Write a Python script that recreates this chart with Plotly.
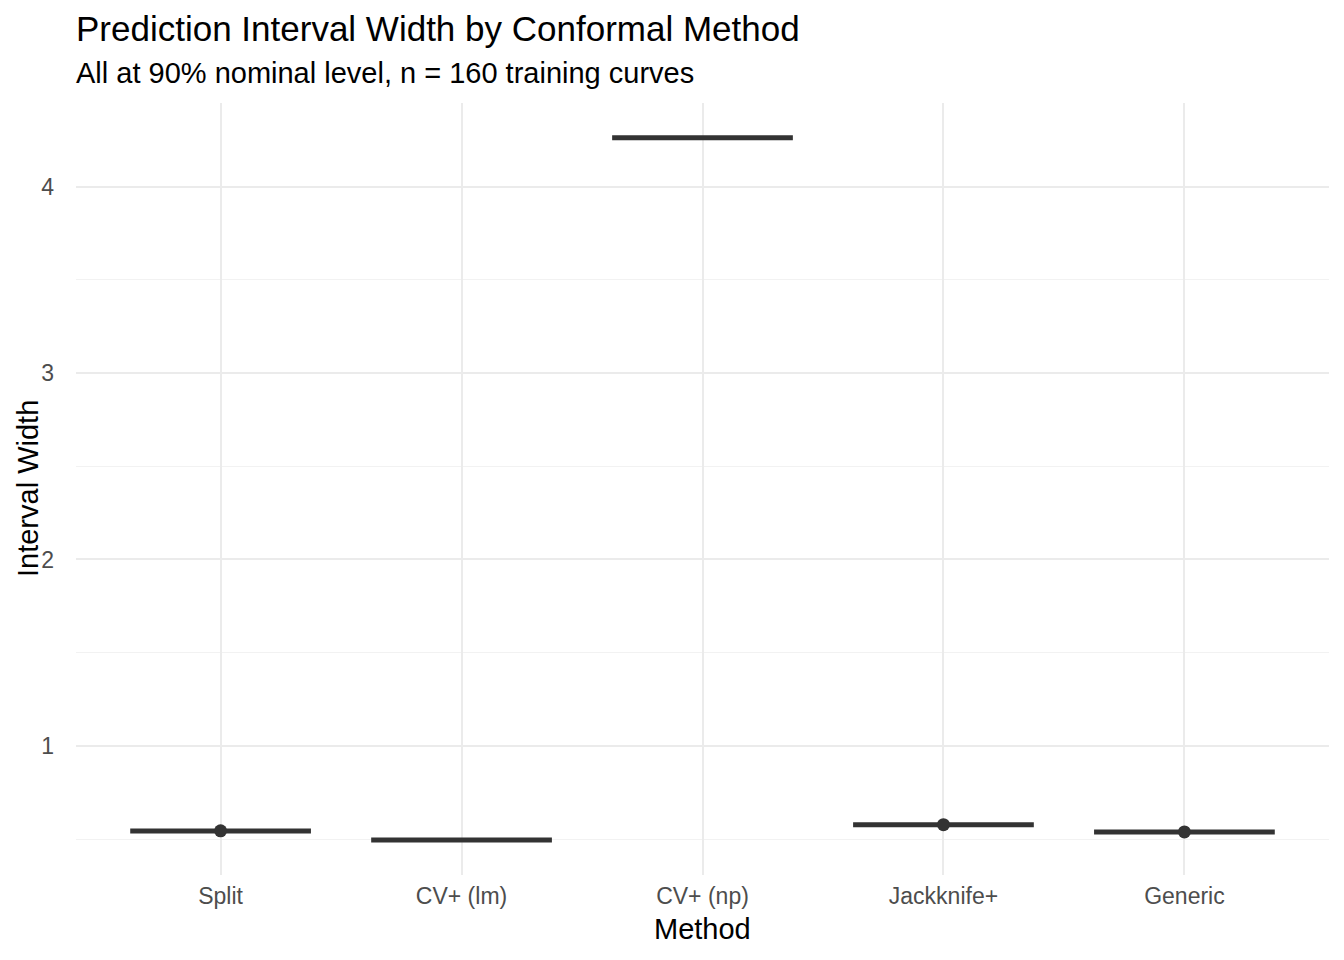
import plotly.graph_objects as go

methods = ["Split", "CV+ (lm)", "CV+ (np)", "Jackknife+", "Generic"]
medians = [0.544, 0.496, 4.262, 0.577, 0.539]
outlier_methods = ["Split", "Jackknife+", "Generic"]
outlier_values = [0.545, 0.578, 0.539]

fig = go.Figure()
fig.add_trace(go.Box(
    x=methods,
    q1=medians, median=medians, q3=medians,
    lowerfence=medians, upperfence=medians,
    width=0.75,
    line=dict(color="#333333", width=5),
    fillcolor="rgba(255,255,255,0)",
    boxpoints=False,
    showlegend=False,
    hoverinfo="skip",
))
fig.add_trace(go.Scatter(
    x=outlier_methods, y=outlier_values, mode="markers",
    marker=dict(color="#333333", size=13),
    showlegend=False, hoverinfo="skip",
))

# page offset from body margin
OFF = 8
L, T = 76 - OFF, 103 - OFF
PW, PH = 1253, 772
W, H = 1328, 944
R, B = W - L - PW, H - T - PH

def py(page_y):
    return 1 - ((page_y - OFF) - T) / PH

def px(page_x):
    return ((page_x - OFF) - L) / PW

font = "Liberation Sans, Arial, sans-serif"
fig.update_layout(
    width=W, height=H,
    paper_bgcolor="white", plot_bgcolor="white",
    margin=dict(l=L, r=R, t=T, b=B),
    font=dict(family=font, color="black"),
    xaxis=dict(
        categoryorder="array", categoryarray=methods,
        range=[-0.6, 4.6],
        showgrid=True, gridcolor="#EBEBEB", gridwidth=2,
        zeroline=False, showline=False, ticks="",
        tickfont=dict(size=23, color="#4D4D4D"),
        ticklabelstandoff=5,
    ),
    yaxis=dict(
        range=[0.308, 4.448],
        tick0=0, dtick=1,
        showgrid=True, gridcolor="#EBEBEB", gridwidth=2,
        minor=dict(dtick=0.5, showgrid=True, gridcolor="#F2F2F2", gridwidth=1),
        zeroline=False, showline=False, ticks="",
        tickfont=dict(size=23, color="#4D4D4D"),
        ticklabelstandoff=21,
    ),
    annotations=[
        dict(text="Prediction Interval Width by Conformal Method", x=px(74), y=py(28),
             xref="paper", yref="paper", showarrow=False, xanchor="left", yanchor="middle",
             font=dict(size=35, color="black", family=font)),
        dict(text="All at 90% nominal level, n = 160 training curves", x=px(74), y=py(73),
             xref="paper", yref="paper", showarrow=False, xanchor="left", yanchor="middle",
             font=dict(size=29, color="black", family=font)),
        dict(text="Method", x=0.5, y=py(929),
             xref="paper", yref="paper", showarrow=False, xanchor="center", yanchor="middle",
             font=dict(size=29, color="black", family=font)),
        dict(text="Interval Width", x=px(28), y=py(489), textangle=-90,
             xref="paper", yref="paper", showarrow=False, xanchor="center", yanchor="middle",
             font=dict(size=29, color="black", family=font)),
    ],
)
fig.write_html("out.html")
